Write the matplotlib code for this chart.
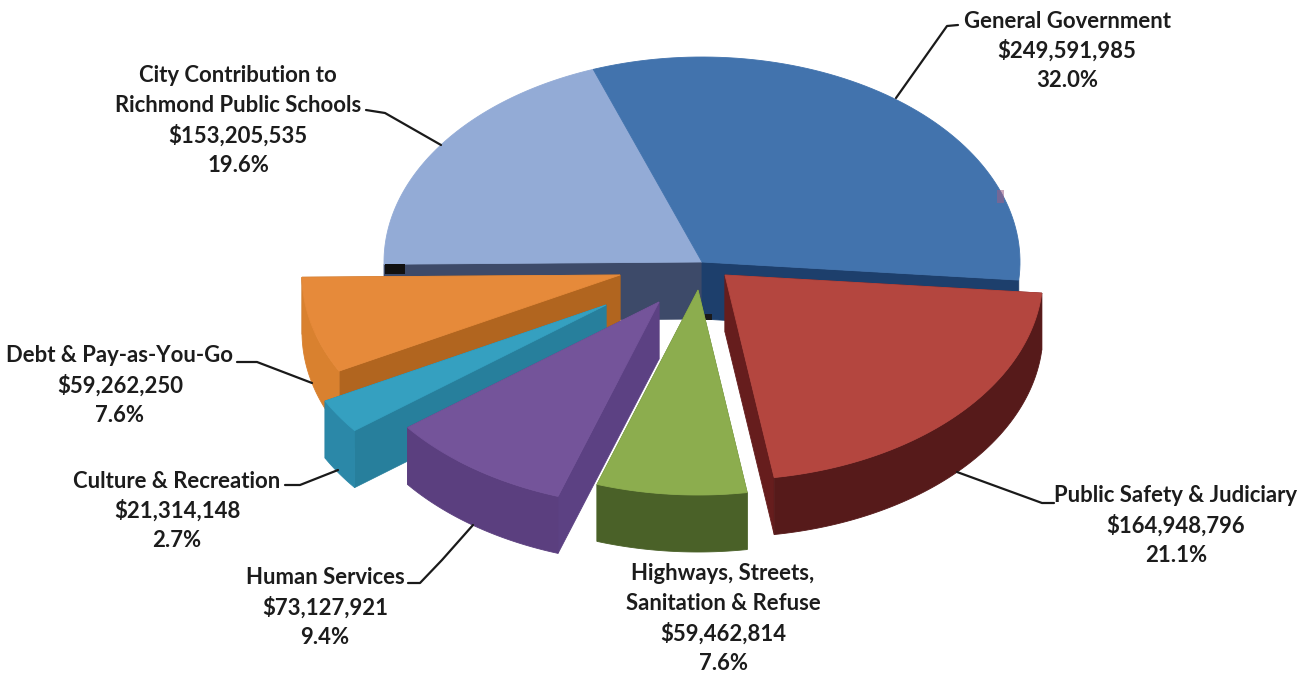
import numpy as np
import matplotlib
matplotlib.use('Agg')
import matplotlib.pyplot as plt
from matplotlib.patches import Polygon

# budget categories, clockwise from the top of the pie
names = ['General Government', 'Public Safety & Judiciary',
         'Highways, Streets,\nSanitation & Refuse', 'Human Services',
         'Culture & Recreation', 'Debt & Pay-as-You-Go',
         'City Contribution to\nRichmond Public Schools']
amounts = [249591985, 164948796, 59462814, 73127921, 21314148, 59262250, 153205535]

# pie shape in pixels
START = -20.0
RX, RY = 318, 205
DEPTH = 57

# apex of every slice (the pull-out of each one is not the same)
apex = [(702, 262), (725, 275), (698, 290), (659, 302), (606, 305), (620, 275), (702, 262)]
top_col = ['#4273ad', '#b4463f', '#8cad4e', '#74549a', '#35a0c0', '#e68a3a', '#93abd6']
rad_col = ['#1d3f6c', '#661d1d', '#55702f', '#5c4183', '#277f9c', '#b1651f', '#3d4a69']
arc_col = ['#1d3f6c', '#561a1a', '#4a6128', '#5b3f7f', '#2b88a8', '#d9812f', '#3d4a69']

label_xy = [(1067, 21), (1176, 496), (723, 574), (325, 578), (177, 481), (120, 356), (238, 76)]
leaders = [[(896, 98), (947, 26), (958, 25)],
           [(957, 472), (1042, 503), (1054, 503)],
           [],
           [(473, 525), (442, 560), (420, 583), (408, 583)],
           [(338, 470), (300, 485), (285, 485)],
           [(312, 383), (257, 362), (237, 362)],
           [(441, 145), (385, 113), (366, 110)]]


def rim(c, t0, t1):
    t = np.radians(np.linspace(t0, t1, 80))
    return np.column_stack([c[0] + RX * np.sin(t), c[1] - RY * np.cos(t)])


def face(ax, pts, color):
    ax.add_patch(Polygon(pts, closed=True, fc=color, ec=color, lw=0.6))


def slice3d(ax, i, t0, t1, solid=True):
    c = np.array(apex[i], dtype=float)
    arc = rim(c, t0, t1)
    drop = np.array([0, DEPTH])
    if solid:
        faces = [(np.array([c, arc[0], arc[0] + drop, c + drop]), rad_col[i]),
                 (np.array([c, arc[-1], arc[-1] + drop, c + drop]), rad_col[i]),
                 (np.vstack([arc, (arc + drop)[::-1]]), arc_col[i])]
        # back faces first so the nearer ones paint over them
        faces.sort(key=lambda f: f[0][:, 1].mean())
        for pts, col in faces:
            face(ax, pts, col)
    face(ax, np.vstack([c, arc]), top_col[i])


def main():
    fig = plt.figure(figsize=(13.07, 6.73), dpi=100)
    ax = fig.add_axes([0, 0, 1, 1])
    ax.set_xlim(0, 1307)
    ax.set_ylim(673, 0)
    ax.axis('off')

    total = sum(amounts)
    sweeps = [a / total * 360 for a in amounts]
    edges = START + np.concatenate([[0], np.cumsum(sweeps)])
    drop = np.array([0, DEPTH])

    # the two slices left in place: cut faces first, then the tops
    for i, t in [(6, edges[6]), (0, edges[1])]:
        c = np.array(apex[i], dtype=float)
        p = rim(c, t, t)[0]
        face(ax, np.array([c, p, p + drop, c + drop]), rad_col[i])
    slice3d(ax, 6, edges[6], edges[7], solid=False)
    slice3d(ax, 0, edges[0], edges[1], solid=False)

    # stray dark marks along the back slab
    ax.fill_between([385, 405], 264, 274, color='#111111', lw=0)
    ax.fill_between([705, 712], 314, 320, color='#1a1a1a', lw=0)
    ax.fill_between([997, 1004], 190, 203, color='#9c5f86', lw=0, alpha=0.55)

    # pulled-out slices, back to front
    for i in [5, 4, 3, 2, 1]:
        slice3d(ax, i, edges[i], edges[i + 1])

    for pts in leaders:
        if pts:
            xs, ys = zip(*pts)
            ax.plot(xs, ys, color='#1a1a1a', lw=1.6, solid_capstyle='round')

    line_h = 29.7
    for name, a, (x, y) in zip(names, amounts, label_xy):
        lines = name.split('\n') + ['${:,}'.format(a), '{:.1f}%'.format(a / total * 100)]
        for k, s in enumerate(lines):
            ax.text(x, y + k * line_h, s, ha='center', va='center', color='#1c1c1c',
                    fontsize=15.9, fontweight='bold', family=['Lato', 'DejaVu Sans'])

    fig.savefig('out.png', dpi=100)


if __name__ == '__main__':
    main()
